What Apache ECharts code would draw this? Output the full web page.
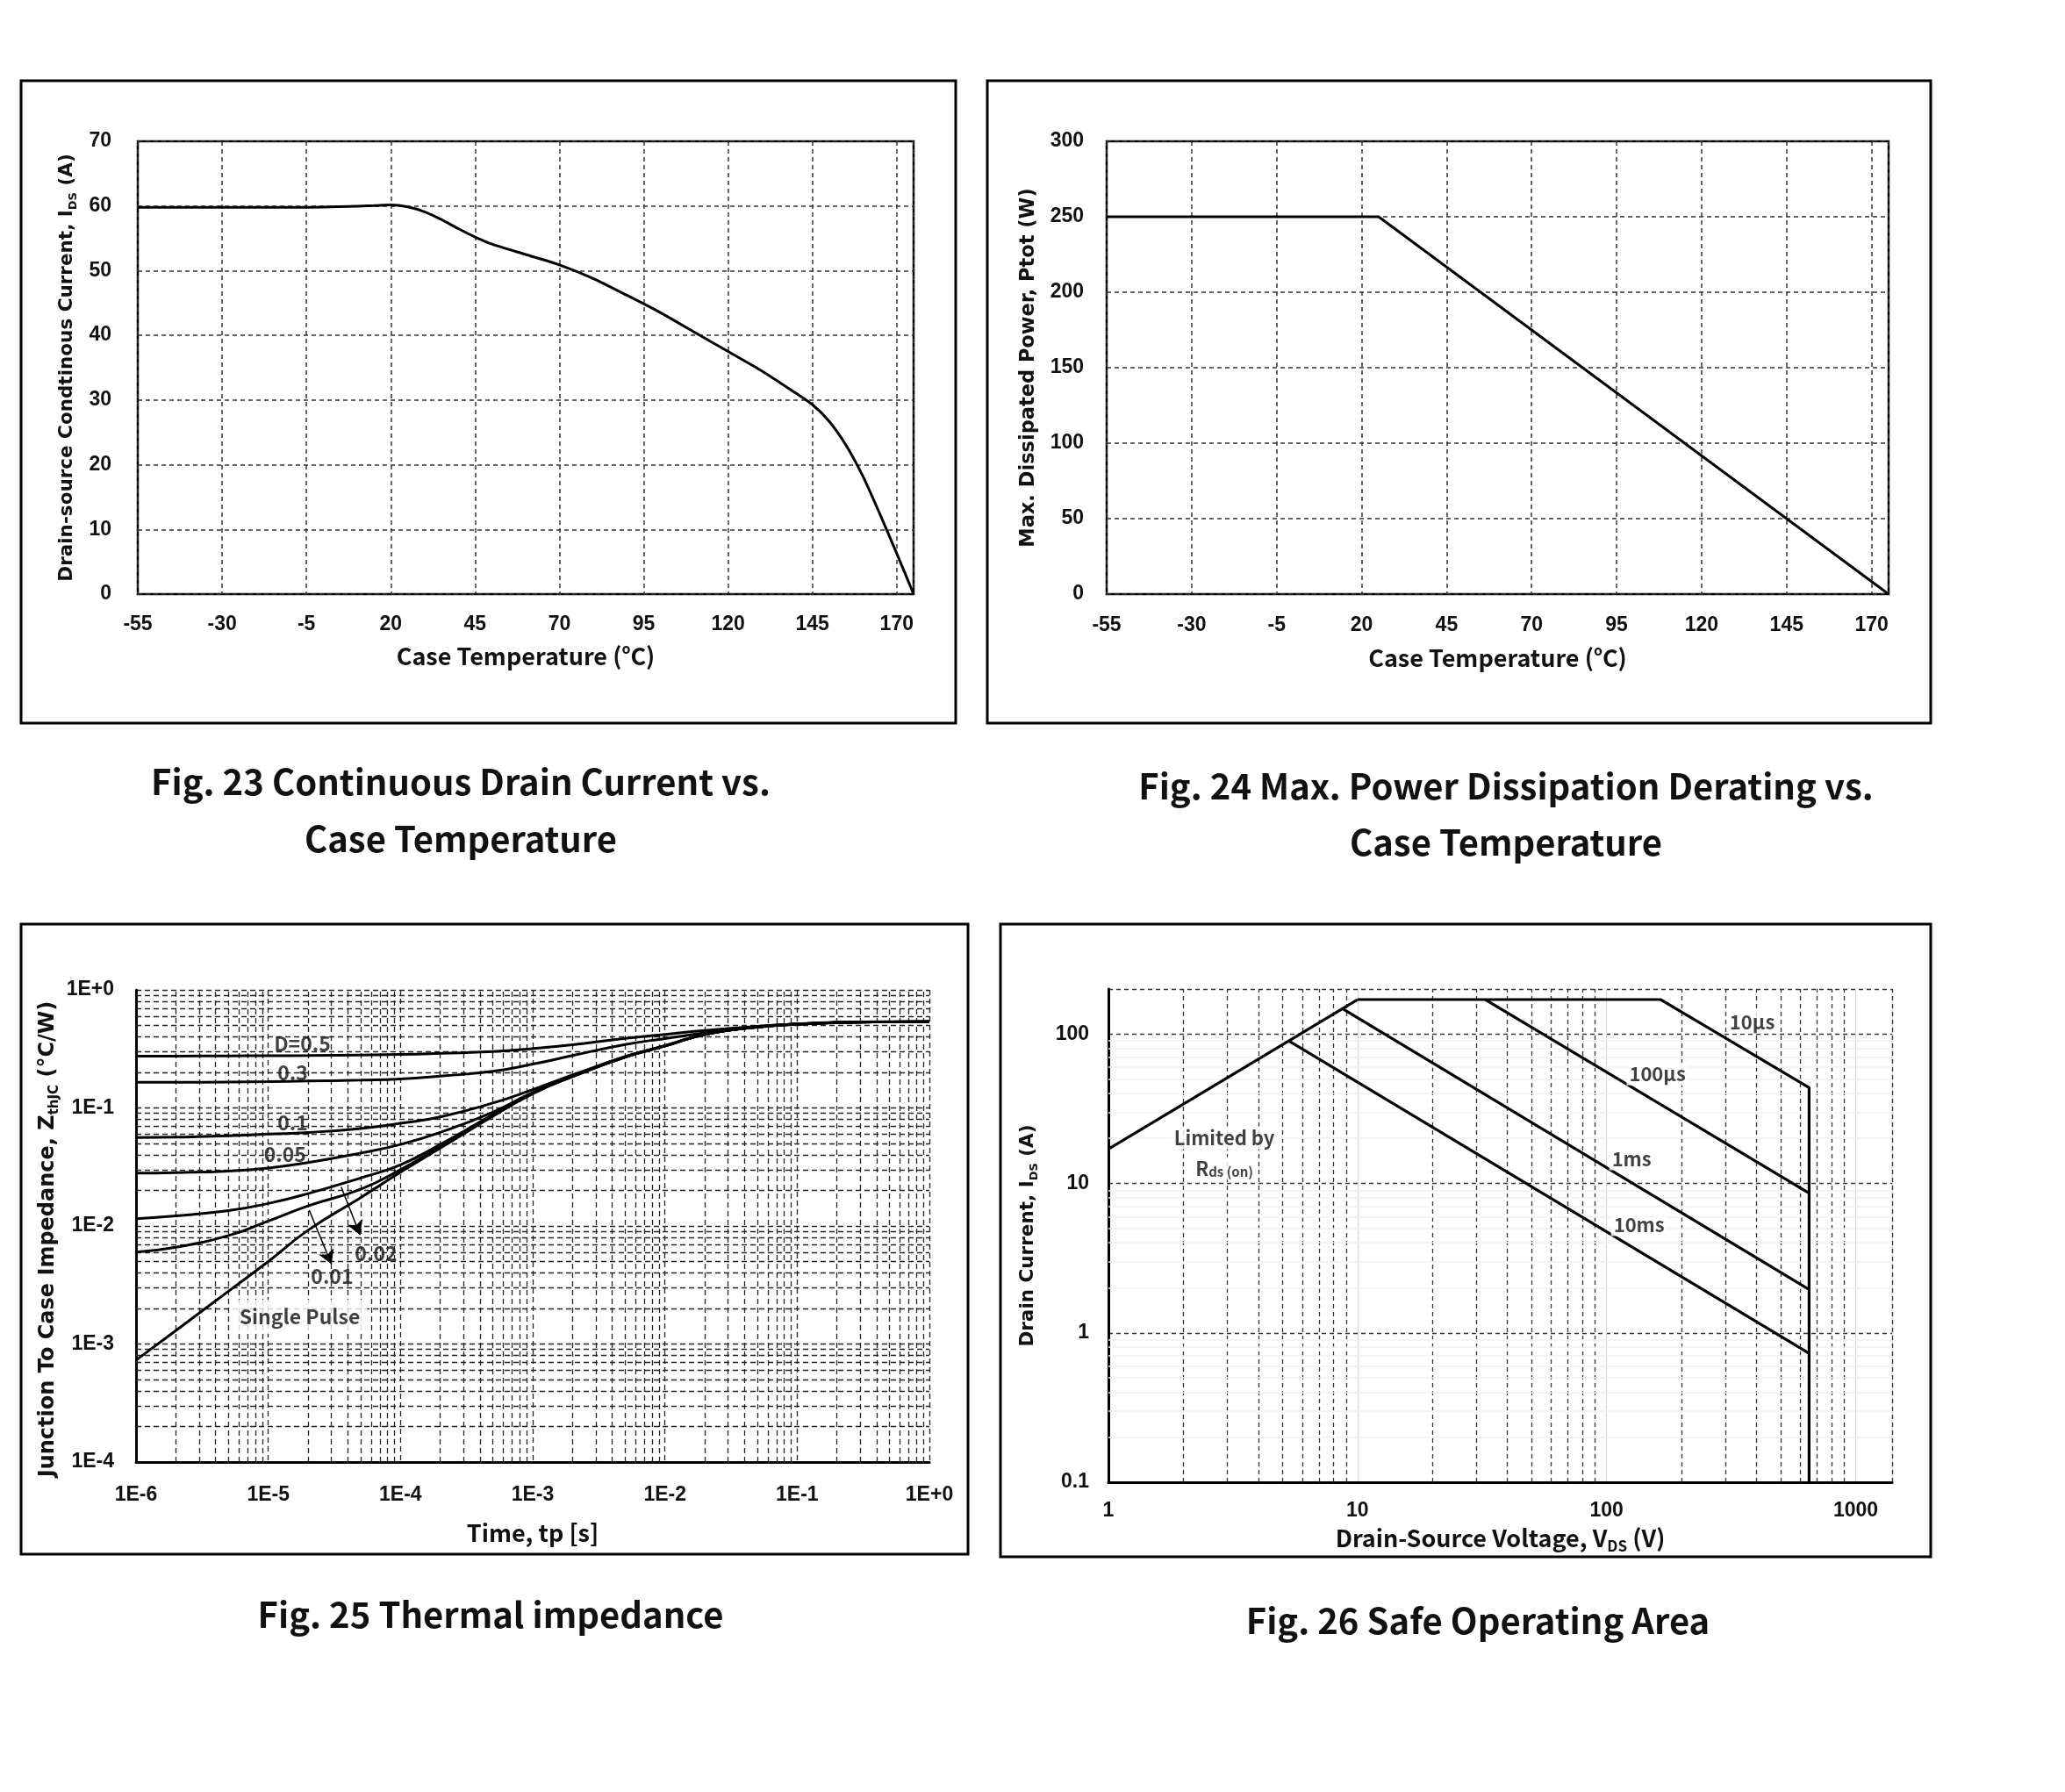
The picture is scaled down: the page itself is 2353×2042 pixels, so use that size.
<!DOCTYPE html>
<html><head><meta charset="utf-8">
<script src="https://cdn.jsdelivr.net/npm/echarts@6/dist/echarts.min.js"></script>
<style>html,body{margin:0;padding:0;background:#fff}#c{width:2353px;height:2042px}</style>
</head><body><div id="c"></div>
<script>
// ---------- Fig. 23 : Continuous drain current vs case temperature ----------
const fig23Temp    = [-55, -30, -5, 5, 15, 20, 25, 30, 35, 40, 45, 50, 60, 70, 80, 90, 100, 110, 120, 130, 140, 145, 150, 155, 160, 165, 170, 175];
const fig23Current = [59.8, 59.8, 59.8, 59.9, 60.05, 60.15, 59.85, 59.1, 57.9, 56.5, 55.2, 54.1, 52.5, 50.9, 48.8, 46.2, 43.5, 40.5, 37.5, 34.5, 31.1, 29.3, 26.7, 23.0, 18.2, 12.4, 6.3, 0];
const tempTickLabels = ['-55', '-30', '-5', '20', '45', '70', '95', '120', '145', '170'];
const currentTickLabels = ['0', '10', '20', '30', '40', '50', '60', '70'];

// ---------- Fig. 24 : Power dissipation derating ----------
const fig24Temp  = [-55, 25, 175];
const fig24Power = [250, 250, 0];
const powerTickLabels = ['0', '50', '100', '150', '200', '250', '300'];

// ---------- Fig. 25 : Thermal impedance ----------
const pulseTime = [1e-6, 2e-6, 5e-6, 1e-5, 2e-5, 5e-5, 1e-4, 2e-4, 5e-4, 1e-3, 2e-3, 5e-3, 1e-2, 2e-2, 5e-2, 1e-1, 2e-1, 5e-1, 1];
const zthD05    = [0.275, 0.275, 0.276, 0.277, 0.278, 0.281, 0.284, 0.290, 0.300, 0.318, 0.343, 0.388, 0.420, 0.453, 0.492, 0.515, 0.530, 0.537, 0.538];
const zthD03    = [0.165, 0.165, 0.166, 0.167, 0.169, 0.172, 0.176, 0.186, 0.204, 0.235, 0.278, 0.345, 0.387, 0.432, 0.484, 0.512, 0.528, 0.536, 0.538];
const zthD01    = [0.056, 0.0565, 0.058, 0.060, 0.062, 0.067, 0.074, 0.084, 0.110, 0.143, 0.190, 0.272, 0.337, 0.420, 0.485, 0.512, 0.528, 0.536, 0.538];
const zthD005   = [0.028, 0.0283, 0.0292, 0.031, 0.0345, 0.0415, 0.049, 0.062, 0.092, 0.135, 0.185, 0.270, 0.335, 0.420, 0.485, 0.512, 0.528, 0.536, 0.538];
const zthD002   = [0.0115, 0.0122, 0.0135, 0.0155, 0.0188, 0.0255, 0.033, 0.049, 0.088, 0.134, 0.185, 0.270, 0.335, 0.420, 0.485, 0.512, 0.528, 0.536, 0.538];
const zthD001   = [0.006, 0.0066, 0.0083, 0.011, 0.0148, 0.0205, 0.030, 0.047, 0.087, 0.133, 0.185, 0.270, 0.335, 0.420, 0.485, 0.512, 0.528, 0.536, 0.538];
const zthSingle = [0.00073, 0.0013, 0.0028, 0.005, 0.0092, 0.0174, 0.0285, 0.0457, 0.085, 0.132, 0.184, 0.270, 0.335, 0.420, 0.485, 0.512, 0.528, 0.536, 0.538];
const timeTickLabels = ['1E-6', '1E-5', '1E-4', '1E-3', '1E-2', '1E-1', '1E+0'];
const zthTickLabels  = ['1E-4', '1E-3', '1E-2', '1E-1', '1E+0'];
const zthLabelText = ['D=0.5', '0.3', '0.1', '0.05', '0.02', '0.01', 'Single Pulse'];
const zthLabelT    = [1.81e-5, 1.53e-5, 1.53e-5, 1.34e-5, 6.53e-5, 3.04e-5, 1.73e-5];
const zthLabelZ    = [0.353, 0.198, 0.0748, 0.0405, 0.00589, 0.00372, 0.0017];
const arrowFromT = [2.04e-5, 3.56e-5], arrowFromZ = [0.0136, 0.0214];
const arrowToT   = [3.01e-5, 4.95e-5], arrowToZ   = [0.00474, 0.0084];

// ---------- Fig. 26 : Safe operating area ----------
const soaRdsV   = [1, 10],               soaRdsI   = [17, 170];
const soa10usV  = [10, 165, 650, 650],   soa10usI  = [170, 170, 43.7, 0.1];
const soa100usV = [32.6, 650],           soa100usI = [170, 8.6];
const soa1msV   = [8.7, 650],            soa1msI   = [148, 1.95];
const soa10msV  = [5.3, 650],            soa10msI  = [90, 0.73];
const vdsTickLabels = ['1', '10', '100', '1000'];
const idsTickLabels = ['0.1', '1', '10', '100'];
const soaLabelText = ['10µs', '100µs', '1ms', '10ms', 'Limited by', 'R{sub|ds (on)}'];
const soaLabelV    = [384, 160, 126, 135, 2.92, 2.92];
const soaLabelI    = [120, 54, 14.6, 5.3, 20.2, 12.6];

// ---------- helpers ----------
const zip = (a, b) => a.map((v, i) => [v, b[i]]);
const logIdx = (v, lo) => Math.round(Math.log10(v)) - lo;
function logMinor(e0, e1) { const out = []; for (let e = e0; e < e1; e++) for (let m = 2; m <= 9; m++) out.push(+(m * Math.pow(10, e)).toPrecision(3)); return out; }

const NF = 'Noto Sans CJK SC';
const TICK = { fontFamily: 'Liberation Sans', fontWeight: 'bold', fontSize: 23, color: '#111' };
const XNAME = { fontFamily: NF, fontWeight: 'bold', fontSize: 27, color: '#111', lineHeight: 34,
  rich: { sub: { fontFamily: NF, fontWeight: 'bold', fontSize: 17, verticalAlign: 'bottom', lineHeight: 17, color: '#111' },
          sup: { fontFamily: NF, fontWeight: 'bold', fontSize: 16, verticalAlign: 'top', lineHeight: 16, color: '#111' } } };
const yName = (size, pad) => ({ fontFamily: 'DejaVu Sans', fontWeight: 'bold', fontSize: size, color: '#111', lineHeight: size + 6, padding: pad || 0,
  rich: { sub: { fontFamily: 'DejaVu Sans', fontWeight: 'bold', fontSize: Math.round(size * 0.62), verticalAlign: 'bottom', lineHeight: Math.round(size * 0.62), color: '#111' } } });
const dashed = (w, c, t) => ({ show: true, lineStyle: { type: t || [5, 4], color: c || '#333', width: w || 1.5 } });
const mlVertical = (vals, style) => ({ silent: true, precision: 12, symbol: ['none', 'none'], label: { show: false }, lineStyle: style, emphasis: { disabled: true }, data: vals.map(v => ({ xAxis: v })) });
const mlHorizontal = (vals, style) => ({ silent: true, precision: 12, symbol: ['none', 'none'], label: { show: false }, lineStyle: style, emphasis: { disabled: true }, data: vals.map(v => ({ yAxis: v })) });
const curve = (gi, data, w, smooth) => ({ type: 'line', xAxisIndex: gi, yAxisIndex: gi, data, symbol: 'none', smooth: smooth || false, z: 5, lineStyle: { color: '#000', width: w }, silent: true });

const chart = echarts.init(document.getElementById('c'), null, { renderer: 'canvas' });

const minor3X = logMinor(-6, 0), minor3Y = logMinor(-4, 0);
const minor4X = logMinor(0, 3), minor4Y = logMinor(-1, 2);
const gridDash3 = { type: [6, 4], color: '#222', width: 1.3 };
const annoLabel = { show: true, position: 'inside', color: '#111', fontFamily: NF, fontWeight: 'bold', fontSize: 22 };

const option = {
  animation: false,
  backgroundColor: '#fff',
  grid: [
    { left: 157, top: 161, width: 884, height: 516, show: true, borderColor: '#000', borderWidth: 2.5, backgroundColor: 'transparent' },
    { left: 1261, top: 161, width: 891, height: 516, show: true, borderColor: '#000', borderWidth: 2.5, backgroundColor: 'transparent' },
    { left: 155, top: 1128, width: 904, height: 538, show: false },
    { left: 1263, top: 1127, width: 893, height: 562, show: false }
  ],
  xAxis: [
    { gridIndex: 0, type: 'value', min: +tempTickLabels[0], max: 175, interval: tempTickLabels[1] - tempTickLabels[0],
      axisLine: { show: false }, axisTick: { show: false },
      axisLabel: Object.assign({ margin: 23, showMaxLabel: false }, TICK), splitLine: dashed(),
      name: 'Case Temperature ({sup|o}C)', nameLocation: 'middle', nameGap: 54, nameTextStyle: XNAME },
    { gridIndex: 1, type: 'value', min: +tempTickLabels[0], max: 175, interval: tempTickLabels[1] - tempTickLabels[0],
      axisLine: { show: false }, axisTick: { show: false },
      axisLabel: Object.assign({ margin: 24, showMaxLabel: false }, TICK), splitLine: dashed(),
      name: 'Case Temperature ({sup|o}C)', nameLocation: 'middle', nameGap: 56, nameTextStyle: XNAME },
    { gridIndex: 2, type: 'log', logBase: 10, min: 1e-6, max: 1,
      axisLine: { show: true, lineStyle: { color: '#000', width: 3 } }, axisTick: { show: false },
      axisLabel: Object.assign({ margin: 26, formatter: v => timeTickLabels[logIdx(v, -6)] }, TICK),
      splitLine: { show: true, lineStyle: gridDash3 },
      name: 'Time, tp [s]', nameLocation: 'middle', nameGap: 64, nameTextStyle: XNAME },
    { gridIndex: 3, type: 'log', logBase: 10, min: 1, max: 1400,
      axisLine: { show: true, lineStyle: { color: '#000', width: 3 } }, axisTick: { show: false },
      axisLabel: Object.assign({ margin: 21, showMaxLabel: false, formatter: v => vdsTickLabels[logIdx(v, 0)] }, TICK),
      splitLine: { show: true, lineStyle: { color: '#d8d8d8', width: 1.2 } },
      name: 'Drain-Source Voltage, V{sub|DS} (V)', nameLocation: 'middle', nameGap: 47, nameTextStyle: XNAME }
  ],
  yAxis: [
    { gridIndex: 0, type: 'value', min: 0, max: +currentTickLabels[currentTickLabels.length - 1], interval: currentTickLabels[1] - currentTickLabels[0],
      axisLine: { show: false }, axisTick: { show: false },
      axisLabel: Object.assign({ margin: 30 }, TICK), splitLine: dashed(),
      name: 'Drain-source Condtinous Current, I{sub|DS} (A)', nameLocation: 'middle', nameGap: 67, nameTextStyle: yName(21.5) },
    { gridIndex: 1, type: 'value', min: 0, max: +powerTickLabels[powerTickLabels.length - 1], interval: powerTickLabels[1] - powerTickLabels[0],
      axisLine: { show: false }, axisTick: { show: false },
      axisLabel: Object.assign({ margin: 26 }, TICK), splitLine: dashed(),
      name: 'Max. Dissipated Power, Ptot (W)', nameLocation: 'middle', nameGap: 75, nameTextStyle: yName(22.5) },
    { gridIndex: 2, type: 'log', logBase: 10, min: 1e-4, max: 1,
      axisLine: { show: true, lineStyle: { color: '#000', width: 3 } }, axisTick: { show: false },
      axisLabel: Object.assign({ margin: 25, formatter: v => zthTickLabels[logIdx(v, -4)] }, TICK),
      splitLine: { show: true, lineStyle: gridDash3 },
      name: 'Junction To Case Impedance, Z{sub|thJC} (°C/W)', nameLocation: 'middle', nameGap: 85, nameTextStyle: yName(24, [0, 30, 0, 0]) },
    { gridIndex: 3, type: 'log', logBase: 10, min: 0.1, max: 200,
      axisLine: { show: true, lineStyle: { color: '#000', width: 3 } }, axisTick: { show: false },
      axisLabel: Object.assign({ margin: 22, showMaxLabel: false, formatter: v => idsTickLabels[logIdx(v, -1)] }, TICK),
      splitLine: { show: true, lineStyle: { type: [5, 4], color: '#333', width: 1.3 } },
      name: 'Drain Current, I{sub|DS} (A)', nameLocation: 'middle', nameGap: 78, nameTextStyle: yName(21.5) }
  ],
  series: [
    curve(0, zip(fig23Temp, fig23Current), 3, 0.25),
    curve(1, zip(fig24Temp, fig24Power), 3, false),
    // Fig 25 minor grid
    { type: 'line', xAxisIndex: 2, yAxisIndex: 2, data: [], z: 1, silent: true, markLine: mlVertical(minor3X, gridDash3) },
    { type: 'line', xAxisIndex: 2, yAxisIndex: 2, data: [], z: 1, silent: true, markLine: mlHorizontal(minor3Y, gridDash3) },
    curve(2, zip(pulseTime, zthD05), 3, 0.5),
    curve(2, zip(pulseTime, zthD03), 3, 0.5),
    curve(2, zip(pulseTime, zthD01), 3, 0.5),
    curve(2, zip(pulseTime, zthD005), 3, 0.5),
    curve(2, zip(pulseTime, zthD002), 3, 0.5),
    curve(2, zip(pulseTime, zthD001), 3, 0.5),
    curve(2, zip(pulseTime, zthSingle), 3, 0.5),
    { type: 'line', xAxisIndex: 2, yAxisIndex: 2, data: [], z: 6, silent: true,
      markLine: { silent: true, precision: 12, symbol: ['none', 'arrow'], symbolSize: [14, 16], label: { show: false },
        lineStyle: { type: 'solid', color: '#000', width: 1.5 }, emphasis: { disabled: true },
        data: arrowFromT.map((t, i) => [{ coord: [t, arrowFromZ[i]] }, { coord: [arrowToT[i], arrowToZ[i]] }]) } },
    { type: 'scatter', xAxisIndex: 2, yAxisIndex: 2, z: 7, silent: true, symbolSize: 1, itemStyle: { color: 'rgba(0,0,0,0)' },
      label: Object.assign({}, annoLabel, { fontSize: 23 }),
      data: zthLabelText.map((s, i) => ({ value: [zthLabelT[i], zthLabelZ[i]],
        label: s === 'Single Pulse' ? { formatter: s, backgroundColor: '#fff', padding: [8, 8] } : { formatter: s } })) },
    // Fig 26 grid
    { type: 'line', xAxisIndex: 3, yAxisIndex: 3, data: [], z: 1, silent: true,
      markLine: mlVertical(minor4X.concat([1400]), { type: [5, 4], color: '#333', width: 1.3 }) },
    { type: 'line', xAxisIndex: 3, yAxisIndex: 3, data: [], z: 0, silent: true,
      markLine: mlHorizontal(minor4Y, { type: 'solid', color: '#f0f0f0', width: 1.5 }) },
    curve(3, zip(soaRdsV, soaRdsI), 3.2),
    curve(3, zip(soa10usV, soa10usI), 3.2),
    curve(3, zip(soa100usV, soa100usI), 3.2),
    curve(3, zip(soa1msV, soa1msI), 3.2),
    curve(3, zip(soa10msV, soa10msI), 3.2),
    { type: 'scatter', xAxisIndex: 3, yAxisIndex: 3, z: 7, silent: true, symbolSize: 1, itemStyle: { color: 'rgba(0,0,0,0)' },
      label: Object.assign({}, annoLabel, { backgroundColor: '#fff', padding: [2, 3],
        rich: { sub: { fontFamily: NF, fontWeight: 'bold', fontSize: 15, verticalAlign: 'bottom', lineHeight: 15, color: '#111' } } }),
      data: soaLabelText.map((s, i) => ({ value: [soaLabelV[i], soaLabelI[i]], label: { formatter: s } })) }
  ],
  graphic: [
    { type: 'rect', silent: true, shape: { x: 24, y: 92, width: 1065, height: 732 }, style: { fill: 'none', stroke: '#000', lineWidth: 3 } },
    { type: 'rect', silent: true, shape: { x: 1125, y: 92, width: 1075, height: 732 }, style: { fill: 'none', stroke: '#000', lineWidth: 3 } },
    { type: 'rect', silent: true, shape: { x: 24, y: 1053, width: 1079, height: 718 }, style: { fill: 'none', stroke: '#000', lineWidth: 3 } },
    { type: 'rect', silent: true, shape: { x: 1140, y: 1053, width: 1060, height: 721 }, style: { fill: 'none', stroke: '#000', lineWidth: 3 } },
    ...[
      ['Fig. 23 Continuous Drain Current vs.', 525, 891],
      ['Case Temperature', 525, 956],
      ['Fig. 24 Max. Power Dissipation Derating vs.', 1716, 896],
      ['Case Temperature', 1716, 960],
      ['Fig. 25 Thermal impedance', 559, 1840],
      ['Fig. 26 Safe Operating Area', 1684, 1847]
    ].map(([t, x, y]) => ({ type: 'text', silent: true, x, y,
      style: { text: t, fontFamily: 'Noto Sans CJK SC', fontWeight: 'bold', fontSize: 40, fill: '#111', align: 'center', verticalAlign: 'middle' } }))
  ]
};
chart.setOption(option);
</script>
</body></html>
